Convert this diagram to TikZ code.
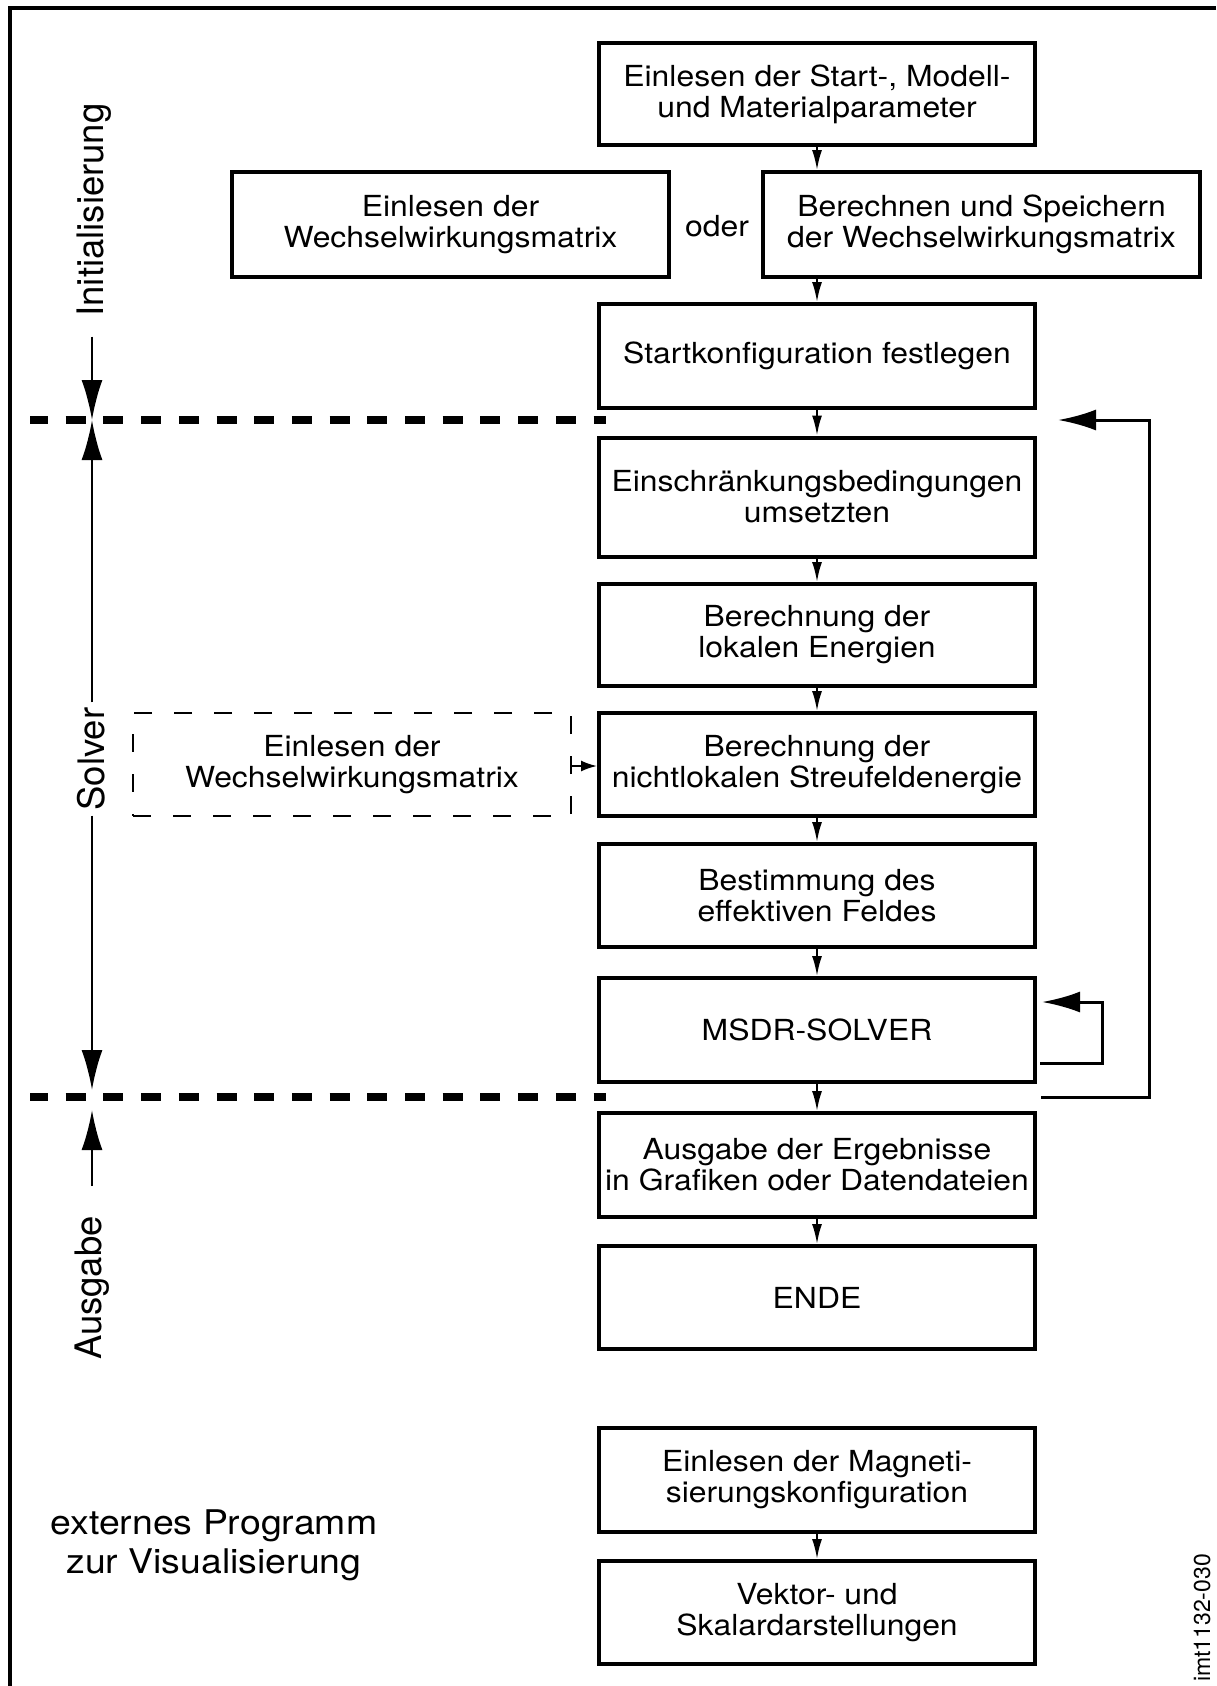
\documentclass[tikz,border=0pt]{standalone}
\usepackage{fontspec}
\setmainfont{TeX Gyre Heros}[FakeStretch=1.1]
\newfontfamily\rotfont{TeX Gyre Heros}
\usetikzlibrary{arrows.meta}
\tikzset{
 box/.style={draw, line width=4pt, minimum width=436pt, inner sep=2pt, align=center, font=\fontsize{29}{31}\selectfont},
 dbox/.style={draw, line width=2.5pt, dash pattern=on 18pt off 22pt, minimum width=438pt, inner sep=2pt, align=center, font=\fontsize{29}{31}\selectfont},
 arr/.style={line width=2pt, -{Latex[length=20pt,width=10pt]}},
 sidearr/.style={line width=2pt, -{Latex[length=16pt,width=11pt]}},
 bigarr/.style={line width=2.5pt, -{Latex[length=40pt,width=21pt]}},
 looparr/.style={line width=3pt, -{Latex[length=38pt,width=21pt]}},
 sepline/.style={line width=8pt, dash pattern=on 20pt off 17.7pt, dash phase=2pt},
 phaselbl/.style={rotate=90, anchor=base, inner sep=0pt, font=\rotfont\fontsize{36.5}{40}\selectfont},
 plaintext/.style={inner sep=0pt, align=center, font=\fontsize{29}{31}\selectfont},
}
\begin{document}
\begin{tikzpicture}[x=1pt, y=-1pt]
\useasboundingbox (0,0) rectangle (1216,1686);
% frame
\coordinate (fTR) at (1216,8);
\coordinate (fTL) at (10,8);
\coordinate (fBL) at (10,1686);
\draw[line width=3.5pt] (fTR) -- (fTL) -- (fBL);

% boxes
\node[box, minimum height=102pt] (b1) at (817,94) {Einlesen der Start-, Modell-\\und Materialparameter};
\node[box, minimum width=437pt, minimum height=105pt] (b2l) at (450.5,224.5) {Einlesen der\\Wechselwirkungsmatrix};
\node[box, minimum width=437pt, minimum height=105pt] (b2r) at (981.5,224.5) {Berechnen und Speichern\\der Wechselwirkungsmatrix};
\node[plaintext] (oder) at (717,226) {oder};
\node[box, minimum height=104pt] (b4) at (817,356) {Startkonfiguration festlegen};
\node[box, minimum height=119pt] (b5) at (817,497) {Einschränkungsbedingungen\\umsetzten};
\node[box, minimum height=102pt] (b6) at (817,635) {Berechnung der\\lokalen Energien};
\node[box, minimum height=103pt] (b7) at (817,764.5) {Berechnung der\\nichtlokalen Streufeldenergie};
\node[dbox, minimum height=103pt] (db) at (352,764.5) {Einlesen der\\Wechselwirkungsmatrix};
\node[box, minimum height=103pt] (b8) at (817,895.5) {Bestimmung des\\effektiven Feldes};
\node[box, minimum height=104pt] (b9) at (817,1030) {MSDR-SOLVER};
\node[box, minimum height=104pt] (b10) at (817,1165) {Ausgabe der Ergebnisse\\in Grafiken oder Datendateien};
\node[box, minimum height=103pt] (b11) at (817,1297.5) {ENDE};
\node[box, minimum height=104pt] (b12) at (817,1480) {Einlesen der Magneti-\\sierungskonfiguration};
\node[box, minimum height=103pt] (b13) at (817,1612.5) {Vektor- und\\Skalardarstellungen};

% connectors
\draw[arr] (b1.south) -- (b1.south |- b2r.north);
\draw[arr] (b4.north |- b2r.south) -- (b4.north);
\draw[arr] (b4.south) -- (b5.north);
\draw[arr] (b5.south) -- (b6.north);
\draw[arr] (b6.south) -- (b7.north);
\draw[arr] (b7.south) -- (b8.north);
\draw[arr] (b8.south) -- (b9.north);
\draw[arr] (b9.south) -- (b10.north);
\draw[arr] (b10.south) -- (b11.north);
\draw[arr] (b12.south) -- (b13.north);
\draw[sidearr] ([yshift=-1.5pt]db.east) -- ([yshift=-1.5pt]b7.west);

% loops
\coordinate (lpS) at (1041,1097);
\coordinate (lpE) at (1058,420);
\coordinate (lpR) at (1149,0);
\draw[looparr] (lpS) -- (lpS -| lpR) -- (lpE -| lpR) -- (lpE);
\coordinate (slS) at (1040,1063);
\coordinate (slE) at (1042,1002);
\coordinate (slR) at (1102,0);
\draw[looparr] (slS) -- (slS -| slR) -- (slE -| slR) -- (slE);

% phase separators
\coordinate (d1a) at (30,420);
\coordinate (d1b) at (606,420);
\coordinate (d2a) at (30,1097);
\coordinate (d2b) at (606,1097);
\draw[sepline] (d1a) -- (d1b);
\draw[sepline] (d2a) -- (d2b);
\coordinate (c1) at (92,420);
\coordinate (c2t) at (92,1090);
\coordinate (c2b) at (92,1110);

% phase labels
\node[phaselbl] (init) at (103,210) {Initialisierung};
\node[phaselbl] (solver) at (104,759) {Solver};
\node[phaselbl] (ausg) at (101,1288) {Ausgabe};
\draw[bigarr, shorten <=20pt] (init.west -| c1) -- (c1);
\draw[bigarr, shorten <=5pt] (solver.east -| c1) -- (c1);
\draw[bigarr, shorten <=5pt] (solver.west -| c1) -- (c2t);
\draw[bigarr, shorten <=30pt] (ausg.east -| c1) -- (c2b);

% other texts
\node[align=center, inner sep=0pt, font=\fontsize{34}{39}\selectfont] (ext) at (214,1545) {externes Programm\\zur Visualisierung};
\node[rotate=90, anchor=base, inner sep=0pt, font=\rotfont\fontsize{23}{26}\selectfont] (imt) at (1210,1618) {imt1132-030};
\end{tikzpicture}
\end{document}
